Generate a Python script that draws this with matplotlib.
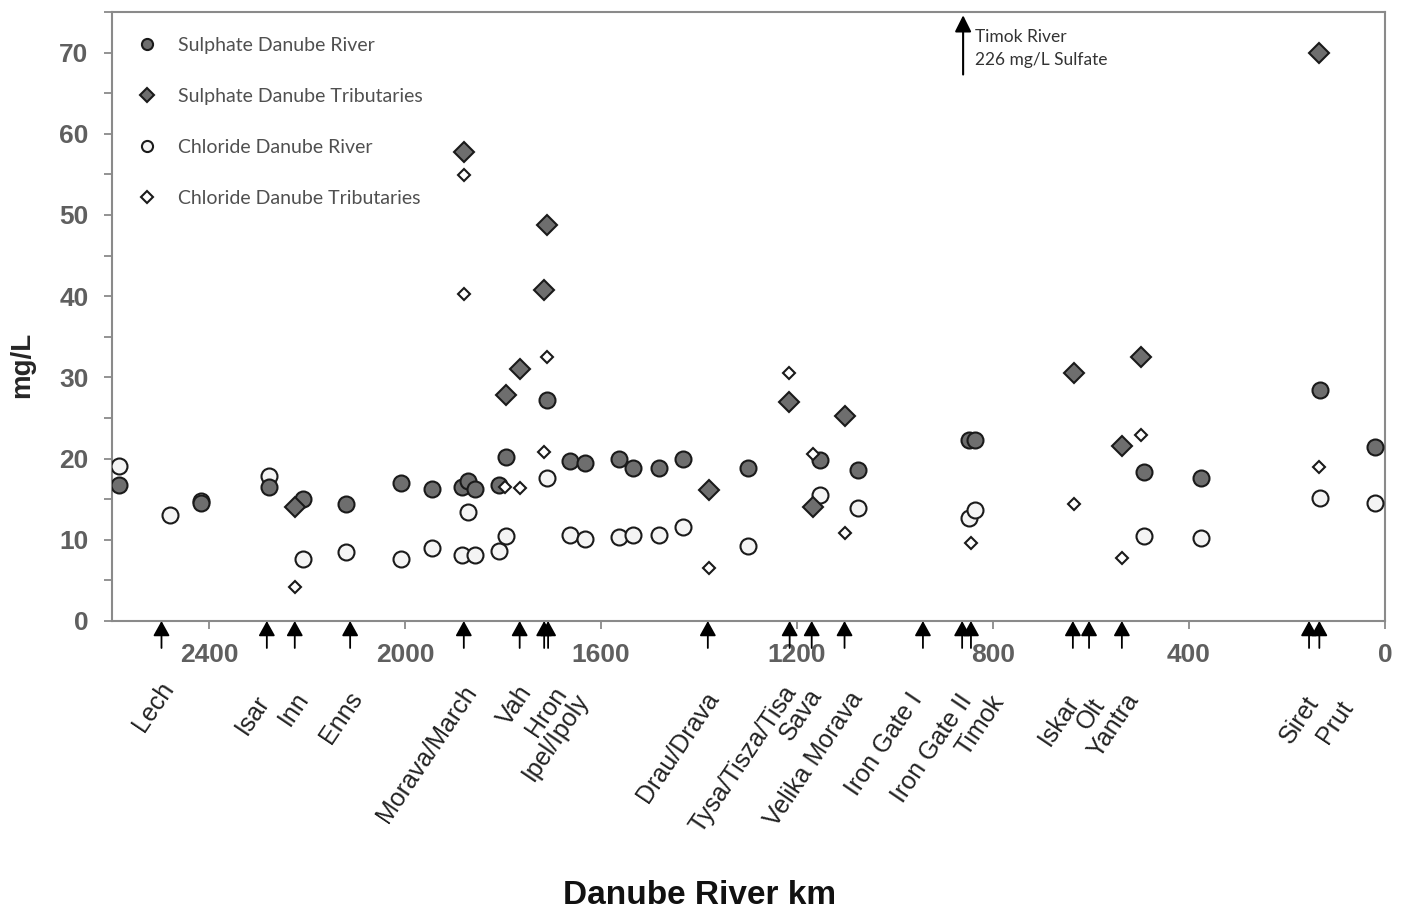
import matplotlib
matplotlib.use("Agg")
import matplotlib.pyplot as plt
from matplotlib.lines import Line2D
from matplotlib.ticker import MultipleLocator

plt.rcParams['font.family'] = ['Liberation Sans', 'DejaVu Sans']

# Danube river stations (km from mouth)
sulphate_river_km = [2584, 2416, 2278, 2208, 2120, 2008, 1945, 1884, 1871, 1857, 1808, 1794,
                     1710, 1663, 1633, 1563, 1535, 1482, 1433, 1300, 1153, 1075, 850, 837,
                     492, 376, 133, 20]
sulphate_river = [16.8, 14.5, 16.5, 15.0, 14.4, 17.0, 16.2, 16.5, 17.3, 16.2, 16.7, 20.2,
                  27.2, 19.7, 19.4, 20.0, 18.9, 18.9, 19.9, 18.9, 19.8, 18.6, 22.3, 22.3,
                  18.3, 17.6, 28.4, 21.4]

chloride_river_km = [2584, 2480, 2416, 2278, 2208, 2120, 2008, 1945, 1884, 1871, 1857, 1808,
                     1794, 1710, 1663, 1633, 1563, 1535, 1482, 1433, 1300, 1153, 1075, 850,
                     837, 492, 376, 133, 20]
chloride_river = [19.1, 13.0, 14.8, 17.8, 7.6, 8.5, 7.6, 9.0, 8.1, 13.4, 8.1, 8.6,
                  10.5, 17.6, 10.6, 10.1, 10.3, 10.6, 10.6, 11.6, 9.2, 15.5, 13.9, 12.7,
                  13.7, 10.5, 10.2, 15.2, 14.5]

# tributaries
sulphate_trib_km = [2225, 1880, 1794, 1765, 1716, 1710, 1380, 1216, 1167, 1102, 635, 537, 498, 135]
sulphate_trib = [14.1, 57.8, 27.8, 31.0, 40.8, 48.8, 16.1, 27.0, 14.0, 25.2, 30.5, 21.5, 32.5, 70.0]

chloride_trib_km = [2225, 1880, 1880, 1796, 1765, 1716, 1710, 1380, 1216, 1167, 1102, 845,
                    635, 537, 498, 135]
chloride_trib = [4.2, 54.9, 40.3, 16.5, 16.4, 20.8, 32.5, 6.5, 30.5, 20.6, 10.8, 9.6,
                 14.4, 7.7, 22.9, 19.0]

# confluences marked under the axis
trib_names = ['Lech', 'Isar', 'Inn', 'Enns', 'Morava/March', 'Vah', 'Hron', 'Ipel/Ipoly',
              'Drau/Drava', 'Tysa/Tisza/Tisa', 'Sava', 'Velika Morava', 'Iron Gate I',
              'Iron Gate II', 'Timok', 'Iskar', 'Olt', 'Yantra', 'Siret', 'Prut']
trib_km = [2497, 2282, 2225, 2112, 1880, 1766, 1716, 1708, 1382, 1215, 1170, 1103, 943,
           863, 845, 637, 604, 537, 155, 134]

# label end offsets in pixels (dx right, dy down) from the arrow foot
label_offsets = [(-3, 56), (-13, 70), (-1, 66), (-3, 66), (-2, 60), (-3, 60), (7, 61), (26, 68),
                 (-4, 66), (-8, 60), (-5, 63), (3, 66), (-16, 68), (-5, 69), (18, 70), (-9, 71),
                 (1, 73), (2, 68), (-5, 71), (19, 75)]

xticks = [2400, 2000, 1600, 1200, 800, 400, 0]

dark = '#6e6e6e'
light = '#f4f4f4'
edge = '#1a1a1a'
tick_grey = '#5f5f5f'

fig = plt.figure(figsize=(14.03, 9.09), dpi=100)
ax = fig.add_axes([112 / 1403, 1 - 621 / 909, (1385 - 112) / 1403, (621 - 12) / 909])

ax.plot(chloride_river_km, chloride_river, 'o', ms=11.5, mfc=light, mec=edge, mew=1.5, zorder=3)
ax.plot(sulphate_river_km, sulphate_river, 'o', ms=11.5, mfc=dark, mec=edge, mew=1.5, zorder=4)
ax.plot(sulphate_trib_km, sulphate_trib, 'D', ms=10, mfc=dark, mec=edge, mew=1.5, zorder=4)
ax.plot(chloride_trib_km, chloride_trib, 'D', ms=6.5, mfc='white', mec=edge, mew=1.5, zorder=5)

ax.set_xlim(2598, 0)
ax.set_ylim(0, 75)
ax.set_xticks(xticks)
ax.set_xticklabels([str(t) for t in xticks])
ax.yaxis.set_major_locator(MultipleLocator(10))
ax.yaxis.set_minor_locator(MultipleLocator(5))
ax.set_yticks([0, 10, 20, 30, 40, 50, 60, 70])
ax.tick_params(axis='both', which='both', direction='out', length=6, width=1.3,
               color='#8a8a8a', labelsize=19, labelcolor=tick_grey)
ax.tick_params(axis='x', pad=10)
ax.tick_params(axis='y', pad=11)
for lbl in ax.get_xticklabels() + ax.get_yticklabels():
    lbl.set_fontweight('bold')
for sp in ax.spines.values():
    sp.set_color('#8a8a8a')
    sp.set_linewidth(1.5)

# confluence arrows and names
for name, km, (dx, dy) in zip(trib_names, trib_km, label_offsets):
    ax.annotate('', xy=(km, 0.0), xycoords=('data', 'axes fraction'),
                xytext=(0, -27), textcoords='offset pixels',
                arrowprops=dict(arrowstyle='-|>,head_length=0.45,head_width=0.25',
                                color='black', lw=1.3, shrinkA=0, shrinkB=0,
                                mutation_scale=20),
                annotation_clip=False, zorder=6)
    ax.annotate(name, xy=(km, 0.0), xycoords=('data', 'axes fraction'),
                xytext=(dx, -dy), textcoords='offset pixels',
                rotation=56, rotation_mode='anchor', ha='right', va='top',
                fontsize=18, color='#222222', annotation_clip=False)

# Timok off-scale note
ax.annotate('', xy=(861, 74.6), xytext=(861, 67.3),
            arrowprops=dict(arrowstyle='-|>,head_length=0.5,head_width=0.25',
                            color='black', lw=1.5, shrinkA=0, shrinkB=0, mutation_scale=20))
ax.text(837, 70.5, 'Timok River\n226 mg/L Sulfate', ha='left', va='center',
        fontsize=12.5, family='Lato', color='#333333', linespacing=1.5)

handles = [
    Line2D([], [], ls='none', marker='o', ms=8, mfc=dark, mec=edge, mew=1.5),
    Line2D([], [], ls='none', marker='D', ms=7, mfc=dark, mec=edge, mew=1.5),
    Line2D([], [], ls='none', marker='o', ms=8, mfc=light, mec=edge, mew=1.5),
    Line2D([], [], ls='none', marker='D', ms=6, mfc='white', mec=edge, mew=1.5),
]
labels = ['Sulphate Danube River', 'Sulphate Danube Tributaries',
          'Chloride Danube River', 'Chloride Danube Tributaries']
leg = ax.legend(handles, labels, loc='upper left', bbox_to_anchor=(127.5 / 1403, 1 - 29 / 909),
                bbox_transform=fig.transFigure, frameon=False, prop={'family': 'Lato', 'size': 14},
                labelspacing=1.75, handlelength=1.2, handletextpad=1.0, borderaxespad=0)
for t in leg.get_texts():
    t.set_color('#505050')

fig.text(22 / 1403, 1 - 365 / 909, 'mg/L', rotation=90, ha='center', va='center',
         fontsize=20, fontweight='bold', color='#262626')
fig.text(700 / 1403, 1 - 895 / 909, 'Danube River km', ha='center', va='center',
         fontsize=24, fontweight='bold', color='#111111')

fig.savefig('out.png', dpi=100)
